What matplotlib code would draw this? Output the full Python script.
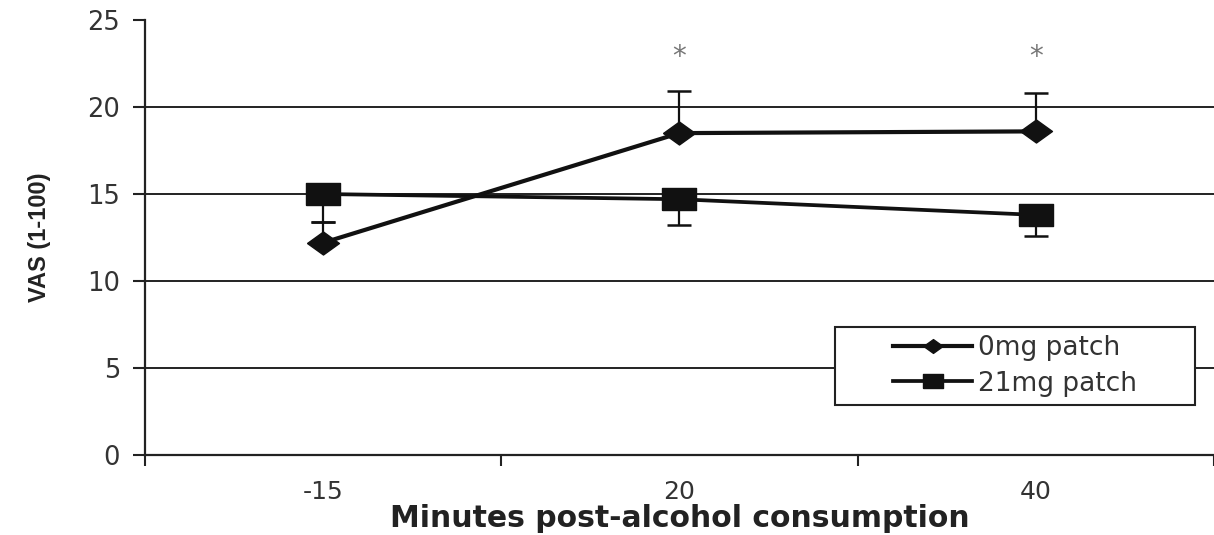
import matplotlib
matplotlib.use("Agg")
import matplotlib.pyplot as plt
from matplotlib.patches import Rectangle
import numpy as np

plt.rcParams['font.family'] = ['DejaVu Sans']

categories = ["-15", "20", "40"]
mg0_values = [12.2, 18.5, 18.6]
mg0_err_up = [1.2, 2.4, 2.2]
mg21_values = [15.0, 14.7, 13.8]
mg21_err_down = [1.6, 1.5, 1.2]
star_flags = [False, True, True]
star_level = 22.9
yticks = [0, 5, 10, 15, 20, 25]

fig = plt.figure(figsize=(12.14, 5.35), dpi=100)
ax = fig.add_axes([0.1194, 0.1495, 0.8806, 0.8131])

x = np.arange(len(categories))
ax.set_xlim(-0.5, len(categories) - 0.5)
ax.set_ylim(0, 25)

for yv in yticks[1:-1]:
    ax.axhline(yv, color='#222222', lw=1.4, zorder=1)

diamond = [(-1, 0), (0, 0.72), (1, 0), (0, -0.72), (-1, 0)]
rect = [(-1, -0.66), (1, -0.66), (1, 0.66), (-1, 0.66), (-1, -0.66)]

ax.errorbar(x, mg0_values, yerr=[np.zeros(len(x)), mg0_err_up], fmt='none',
            ecolor='#111111', elinewidth=1.6, capsize=8.5, capthick=1.8, zorder=3)
ax.errorbar(x, mg21_values, yerr=[mg21_err_down, np.zeros(len(x))], fmt='none',
            ecolor='#111111', elinewidth=1.6, capsize=8.5, capthick=1.8, zorder=3)

ax.plot(x, mg0_values, color='#111111', lw=3, marker=diamond, markersize=23,
        zorder=4, label='0mg patch')
ax.plot(x, mg21_values, color='#111111', lw=2.7, marker=rect, markersize=24,
        zorder=4, label='21mg patch')

for xi, flag in zip(x, star_flags):
    if flag:
        ax.text(xi, star_level, '*', ha='center', va='center', fontsize=20,
                color='#777777')

ax.set_yticks(yticks)
ax.set_yticklabels([str(v) for v in yticks])
ax.set_xticks(x)
ax.set_xticklabels(categories)
ax.set_xticks(np.arange(-0.5, len(categories) + 0.5, 1), minor=True)
ax.tick_params(axis='x', which='major', length=0, pad=18, labelsize=18,
               labelcolor='#333333')
ax.tick_params(axis='x', which='minor', length=8, width=1.5, direction='out',
               color='#222222')
ax.tick_params(axis='y', length=9, width=1.5, direction='out', labelsize=18.5,
               labelcolor='#333333', color='#222222', pad=9)

for s in ['top', 'right']:
    ax.spines[s].set_visible(False)
ax.spines['left'].set_linewidth(1.6)
ax.spines['bottom'].set_linewidth(1.6)
ax.spines['left'].set_color('#222222')
ax.spines['bottom'].set_color('#222222')

ax.set_xlabel('Minutes post-alcohol consumption', fontsize=21.5, fontweight='bold',
              color='#222222', labelpad=0)
ax.set_ylabel('VAS (1-100)', fontsize=17, fontweight='bold', color='#222222',
              labelpad=26, family=['Liberation Sans', 'DejaVu Sans'])

# legend frame box
box_x, box_y, box_w, box_h = 0.6455, 0.115, 0.3367, 0.179
frame = Rectangle((box_x, box_y), box_w, box_h, transform=ax.transAxes,
                  facecolor='white', edgecolor='#222222', lw=1.5, zorder=5)
ax.add_patch(frame)
leg = ax.legend(loc='center', bbox_to_anchor=(box_x + box_w / 2, box_y + box_h / 2),
                frameon=False, fontsize=19, markerscale=0.6,
                handlelength=3.0, borderpad=0.0, labelspacing=0.35,
                handletextpad=0.2, borderaxespad=0)
leg.set_zorder(6)
for t in leg.get_texts():
    t.set_color('#333333')

fig.savefig('out.png', dpi=100)
